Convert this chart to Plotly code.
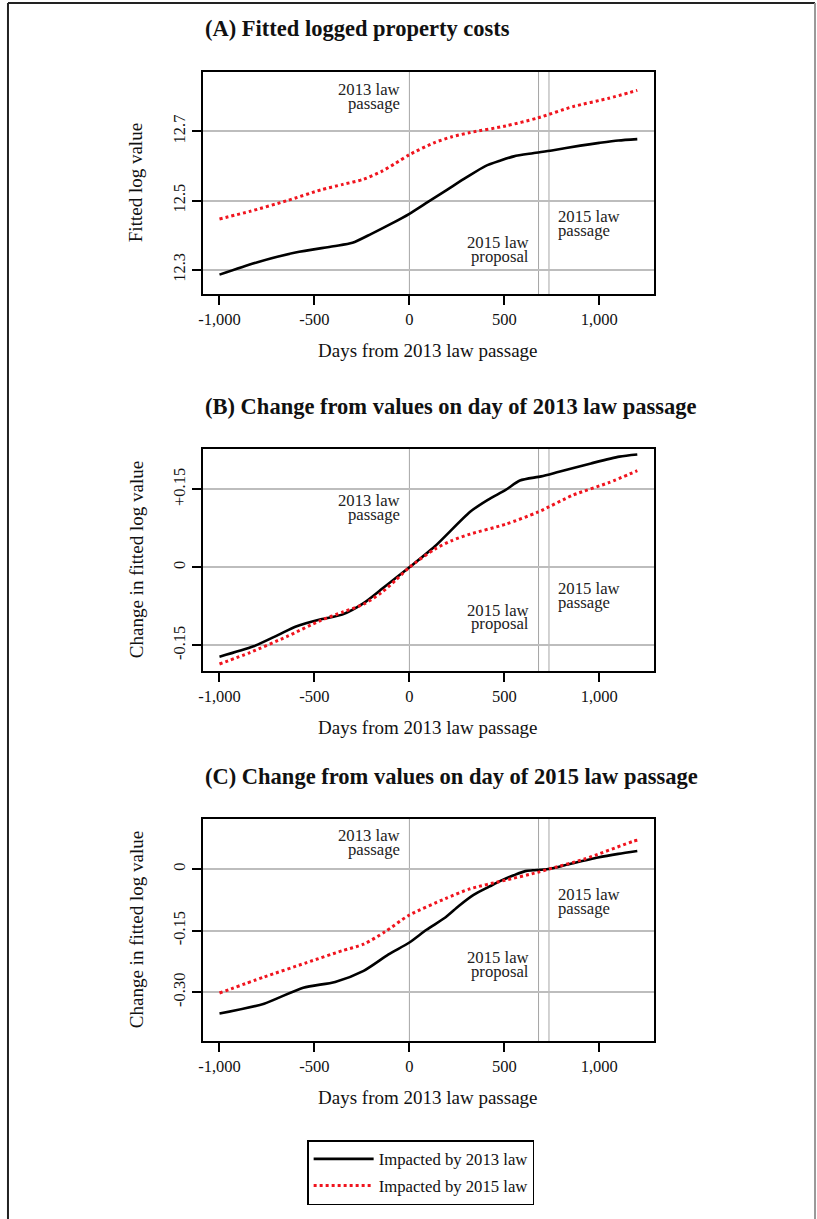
import plotly.graph_objects as go

# ---------------- data ----------------
event_days = [0, 680, 735]          # 2013 law passage, 2015 law proposal, 2015 law passage
x_tickvals = [-1000, -500, 0, 500, 1000]
x_ticktext = ["-1,000", "-500", "0", "500", "1,000"]

# Panel A: fitted logged property costs
a_days_2013 = [-1000, -800, -600, -400, -300, -200, -100, 0, 100, 200, 300, 400, 480, 550, 650, 750, 900, 1000, 1100, 1200]
a_vals_2013 = [12.286, 12.322, 12.350, 12.368, 12.378, 12.404, 12.432, 12.462, 12.497, 12.532, 12.567, 12.600, 12.616, 12.628, 12.637, 12.645, 12.659, 12.667, 12.674, 12.678]
a_days_2015 = [-1000, -840, -644, -466, -350, -241, -148, -73, 0, 133, 220, 320, 507, 675, 862, 1050, 1200]
a_vals_2015 = [12.447, 12.469, 12.500, 12.531, 12.547, 12.562, 12.584, 12.608, 12.633, 12.668, 12.684, 12.697, 12.716, 12.739, 12.772, 12.796, 12.819]
a_ytickvals = [12.3, 12.5, 12.7]
a_yticktext = ["12.3", "12.5", "12.7"]
a_yrange = [12.230, 12.872]

# Panel B: change from values on day of 2013 law passage
b_days_2013 = [-1000, -821, -690, -597, -466, -354, -241, -129, 0, 133, 320, 413, 507, 582, 694, 788, 956, 1106, 1200]
b_vals_2013 = [-0.172, -0.152, -0.130, -0.114, -0.100, -0.091, -0.069, -0.037, 0.0, 0.040, 0.107, 0.130, 0.149, 0.167, 0.175, 0.184, 0.200, 0.213, 0.217]
b_days_2015 = [-1000, -840, -644, -466, -350, -241, -148, -73, 0, 133, 220, 320, 507, 675, 862, 1050, 1200]
b_vals_2015 = [-0.186, -0.164, -0.133, -0.102, -0.086, -0.071, -0.049, -0.025, 0.0, 0.035, 0.051, 0.064, 0.083, 0.106, 0.139, 0.163, 0.186]
b_ytickvals = [-0.15, 0, 0.15]
b_yticktext = ["-0.15", "0", "+0.15"]
b_yrange = [-0.1995, 0.2277]

# Panel C: change from values on day of 2015 law passage
c_days_2013 = [-1000, -765, -559, -391, -241, -110, 0, 90, 189, 260, 338, 420, 488, 550, 610, 650, 731, 850, 993, 1100, 1200]
c_vals_2013 = [-0.352, -0.328, -0.289, -0.275, -0.248, -0.208, -0.179, -0.148, -0.118, -0.090, -0.063, -0.043, -0.027, -0.015, -0.005, -0.003, 0.0, 0.013, 0.028, 0.037, 0.044]
c_days_2015 = [-1000, -765, -541, -354, -241, -129, 0, 189, 320, 488, 675, 735, 919, 1181, 1200]
c_vals_2015 = [-0.302, -0.263, -0.228, -0.199, -0.183, -0.153, -0.112, -0.072, -0.048, -0.029, -0.008, 0.0, 0.024, 0.068, 0.070]
c_ytickvals = [-0.30, -0.15, 0]
c_yticktext = ["-0.30", "-0.15", "0"]
c_yrange = [-0.419, 0.122]

series_names = ["Impacted by 2013 law", "Impacted by 2015 law"]
panel_titles = ["(A) Fitted logged property costs",
                "(B) Change from values on day of 2013 law passage",
                "(C) Change from values on day of 2015 law passage"]
y_titles = ["Fitted log value", "Change in fitted log value", "Change in fitted log value"]
x_title = "Days from 2013 law passage"

# ---------------- layout helpers ----------------
W, H = 817, 1219
FONT = "Liberation Serif, Times New Roman, serif"
BLACK_COL = "#000000"
RED_COL = "#f0141e"


def pxx(p):
    return p / W


def pxy(p):
    return 1 - p / H


box_left, box_right = 199, 653
panel_tops = [72, 449, 819]
box_h = 222

panels = [
    (a_days_2013, a_vals_2013, a_days_2015, a_vals_2015, a_ytickvals, a_yticktext, a_yrange),
    (b_days_2013, b_vals_2013, b_days_2015, b_vals_2015, b_ytickvals, b_yticktext, b_yrange),
    (c_days_2013, c_vals_2013, c_days_2015, c_vals_2015, c_ytickvals, c_yticktext, c_yrange),
]

# annotation vertical positions (fraction of plot height) per panel
label_pos = [
    dict(l13=(0.923, 0.860), prop=(0.230, 0.170), pas=(0.347, 0.285)),
    dict(l13=(0.767, 0.707), prop=(0.272, 0.212), pas=(0.373, 0.310)),
    dict(l13=(0.925, 0.863), prop=(0.375, 0.315), pas=(0.658, 0.595)),
]

fig = go.Figure()
layout = dict(
    width=W, height=H,
    margin=dict(l=0, r=0, t=0, b=0),
    paper_bgcolor="white", plot_bgcolor="white",
    font=dict(family=FONT, size=16.5, color="#111"),
    showlegend=True,
    legend=dict(
        x=pxx(304), y=pxy(1140), xanchor="left", yanchor="top",
        bgcolor="white", bordercolor="black", borderwidth=1.5,
        font=dict(family=FONT, size=16.7, color="#111"),
        tracegroupgap=2, itemwidth=60,
    ),
)
annotations = []
shapes = []

for i, (d13, v13, d15, v15, ytv, ytt, yr) in enumerate(panels):
    n = i + 1
    xa = "x" if n == 1 else f"x{n}"
    ya = "y" if n == 1 else f"y{n}"
    top = panel_tops[i]
    bottom = top + box_h
    dom_y = [pxy(bottom), pxy(top)]

    fig.add_trace(go.Scatter(
        x=d13, y=v13, mode="lines", name=series_names[0],
        line=dict(color=BLACK_COL, width=2.6, shape="spline", smoothing=0.7),
        xaxis=xa, yaxis=ya, showlegend=(i == 0), legendgroup="g13"))
    fig.add_trace(go.Scatter(
        x=d15, y=v15, mode="lines", name=series_names[1],
        line=dict(color=RED_COL, width=3, dash="dot", shape="spline", smoothing=0.7),
        xaxis=xa, yaxis=ya, showlegend=(i == 0), legendgroup="g15"))

    xkey = "xaxis" if n == 1 else f"xaxis{n}"
    ykey = "yaxis" if n == 1 else f"yaxis{n}"
    layout[xkey] = dict(
        domain=[pxx(box_left), pxx(box_right)], anchor=ya,
        range=[-1088, 1288], tickvals=x_tickvals, ticktext=x_ticktext,
        showgrid=False, zeroline=False,
        showline=True, linecolor="black", linewidth=2, mirror=True,
        ticks="outside", ticklen=9, tickwidth=1.5, tickcolor="black",
        tickfont=dict(family=FONT, size=16.5, color="#111"),
    )
    layout[ykey] = dict(
        domain=dom_y, anchor=xa, range=yr,
        tickvals=ytv, ticktext=ytt, tickangle=-90,
        showgrid=True, gridcolor="#bdbdbd", gridwidth=1.5, zeroline=False,
        showline=True, linecolor="black", linewidth=2, mirror=True,
        ticks="outside", ticklen=9, tickwidth=1.5, tickcolor="black",
        tickfont=dict(family=FONT, size=16.5, color="#111"),
    )

    # event lines
    for d in event_days:
        shapes.append(dict(type="line", xref=xa, yref=f"{ya} domain",
                           x0=d, x1=d, y0=0, y1=1, layer="below",
                           line=dict(color="#a6a6a6", width=1)))

    # event labels
    lp = label_pos[i]
    for txt, yy in zip(["2013 law", "passage"], lp["l13"]):
        annotations.append(dict(text=txt, x=event_days[0], y=yy, xref=xa, yref=f"{ya} domain",
                                xanchor="right", yanchor="middle", xshift=-7, showarrow=False,
                                font=dict(family=FONT, size=16.7, color="#222")))
    for txt, yy in zip(["2015 law", "proposal"], lp["prop"]):
        annotations.append(dict(text=txt, x=event_days[1], y=yy, xref=xa, yref=f"{ya} domain",
                                xanchor="right", yanchor="middle", xshift=-8, showarrow=False,
                                font=dict(family=FONT, size=16.7, color="#222")))
    for txt, yy in zip(["2015 law", "passage"], lp["pas"]):
        annotations.append(dict(text=txt, x=event_days[2], y=yy, xref=xa, yref=f"{ya} domain",
                                xanchor="left", yanchor="middle", xshift=7, showarrow=False,
                                font=dict(family=FONT, size=16.7, color="#222")))

    # panel title
    annotations.append(dict(text=f"<b>{panel_titles[i]}</b>", x=pxx(199), y=pxy(top - 43),
                            xref="paper", yref="paper", xanchor="left", yanchor="middle",
                            showarrow=False, font=dict(family=FONT, size=22.5, color="#111")))
    # x title
    annotations.append(dict(text=x_title, x=pxx((box_left + box_right) / 2), y=pxy(bottom + 56),
                            xref="paper", yref="paper", xanchor="center", yanchor="middle",
                            showarrow=False, font=dict(family=FONT, size=19, color="#111")))
    # y title
    annotations.append(dict(text=y_titles[i], x=pxx(132), y=pxy(top + box_h / 2),
                            xref="paper", yref="paper", xanchor="center", yanchor="middle",
                            textangle=-90, showarrow=False,
                            font=dict(family=FONT, size=19, color="#111")))

# outer frame of the figure
shapes.append(dict(type="line", xref="paper", yref="paper", x0=pxx(3), x1=pxx(3),
                   y0=pxy(3), y1=0, line=dict(color="#222", width=2)))
shapes.append(dict(type="line", xref="paper", yref="paper", x0=pxx(3), x1=pxx(815),
                   y0=pxy(3), y1=pxy(3), line=dict(color="#222", width=2)))
shapes.append(dict(type="line", xref="paper", yref="paper", x0=pxx(815), x1=pxx(815),
                   y0=pxy(3), y1=0, line=dict(color="#999", width=2)))

layout["annotations"] = annotations
layout["shapes"] = shapes
fig.update_layout(**layout)
fig.write_html(
    "out.html",
    config={"displayModeBar": False},
    post_script="document.body.style.margin='0px';document.body.style.padding='0px';"
                "document.body.style.overflow='hidden';",
)
